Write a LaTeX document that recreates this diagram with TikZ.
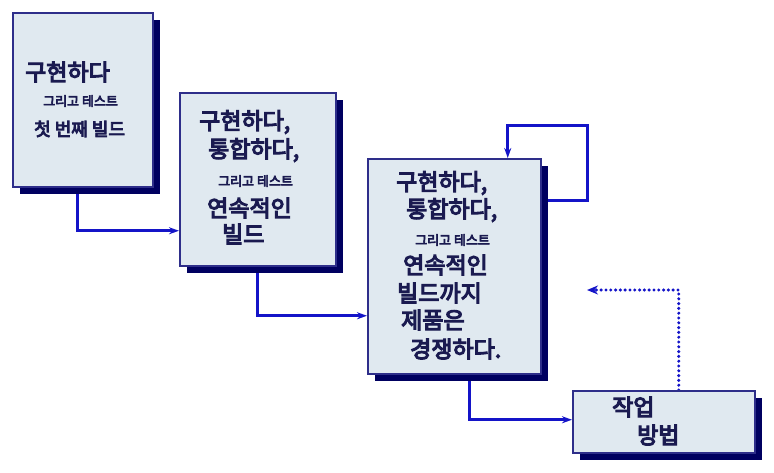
\documentclass[tikz,border=0pt]{standalone}
\usepackage{fontspec}
\usepackage{xcolor}
\usepackage{tikz}
\usetikzlibrary{arrows.meta, shadows, backgrounds}
\newfontfamily\krfont{Noto Sans CJK KR}[FakeBold=5]
\definecolor{wfFill}{HTML}{E0E9F0}
\definecolor{wfEdge}{HTML}{2E2E8A}
\definecolor{wfShadow}{HTML}{000060}
\definecolor{wfArrow}{HTML}{1414C8}
\definecolor{wfText}{HTML}{1A1A50}
\begin{document}
\begin{tikzpicture}[
  x=1pt, y=-1pt,
  box/.style={draw=wfEdge, line width=1.5pt, fill=wfFill, anchor=north west, inner sep=0pt,
              drop shadow={shadow xshift=7pt, shadow yshift=-7pt, fill=wfShadow, opacity=1}},
  big/.style={anchor=west, inner sep=0pt, text=wfText, font=\krfont\fontsize{23}{26}\selectfont},
  mid/.style={anchor=west, inner sep=0pt, text=wfText, font=\krfont\fontsize{18}{21}\selectfont},
  small/.style={anchor=west, inner sep=0pt, text=wfText, font=\krfont\fontsize{13}{15}\selectfont},
  arr/.style={-{Stealth[length=10pt, width=7pt]}, line width=3pt, color=wfArrow},
  dotarr/.style={-{Stealth[length=11pt, width=9pt]}, line width=3.4pt, color=wfArrow,
                 dash pattern=on 0pt off 4.8pt, line cap=round}
]
\useasboundingbox (0,0) rectangle (774,472);

% the four stages
\node[box, minimum width=140pt, minimum height=174pt] (b1) at (12,12) {};
\node[box, minimum width=156pt, minimum height=173pt] (b2) at (179,92) {};
\node[box, minimum width=173pt, minimum height=215pt] (b3) at (367,158) {};
\node[box, minimum width=182pt, minimum height=62pt] (b4) at (572,390) {};

% text lines
\foreach \txt/\x/\y [count=\i] in {
  {구현하다}/25/72,
  {구현하다,}/199/122, {통합하다,}/208/150, {연속적인}/207/208, {빌드}/222/234,
  {구현하다,}/396/183, {통합하다,}/406/210, {연속적인}/403/265, {빌드까지}/397/293,
  {제품은}/401/320, {경쟁하다.}/410/349,
  {작업}/612/407, {방법}/637/435}
  \node[big] (big\i) at (\x,\y) {\txt};
\foreach \x/\y [count=\i] in {43/101, 218/181, 415/240}
  \node[small] (small\i) at (\x,\y) {그리고 테스트};
\node[mid] (first) at (34,129) {첫 번째 빌드};

\coordinate (loop) at (587,125);
\coordinate (fb) at (587,290);

\begin{scope}[on background layer]
\draw[arr] ([xshift=-5pt]b1.south) |- ([yshift=-51.5pt]b2.west);
\draw[arr] (b2.south) |- ([yshift=-49.5pt]b3.west);
\draw[arr] ([xshift=15.5pt]b3.south) |- ([yshift=2pt]b4.west);
\draw[arr] ([yshift=65.5pt]b3.east) -| (loop) -| ([xshift=53.5pt]b3.north);
\draw[dotarr] ([xshift=15pt]b4.north) |- (fb);
\end{scope}

\end{tikzpicture}
\end{document}
